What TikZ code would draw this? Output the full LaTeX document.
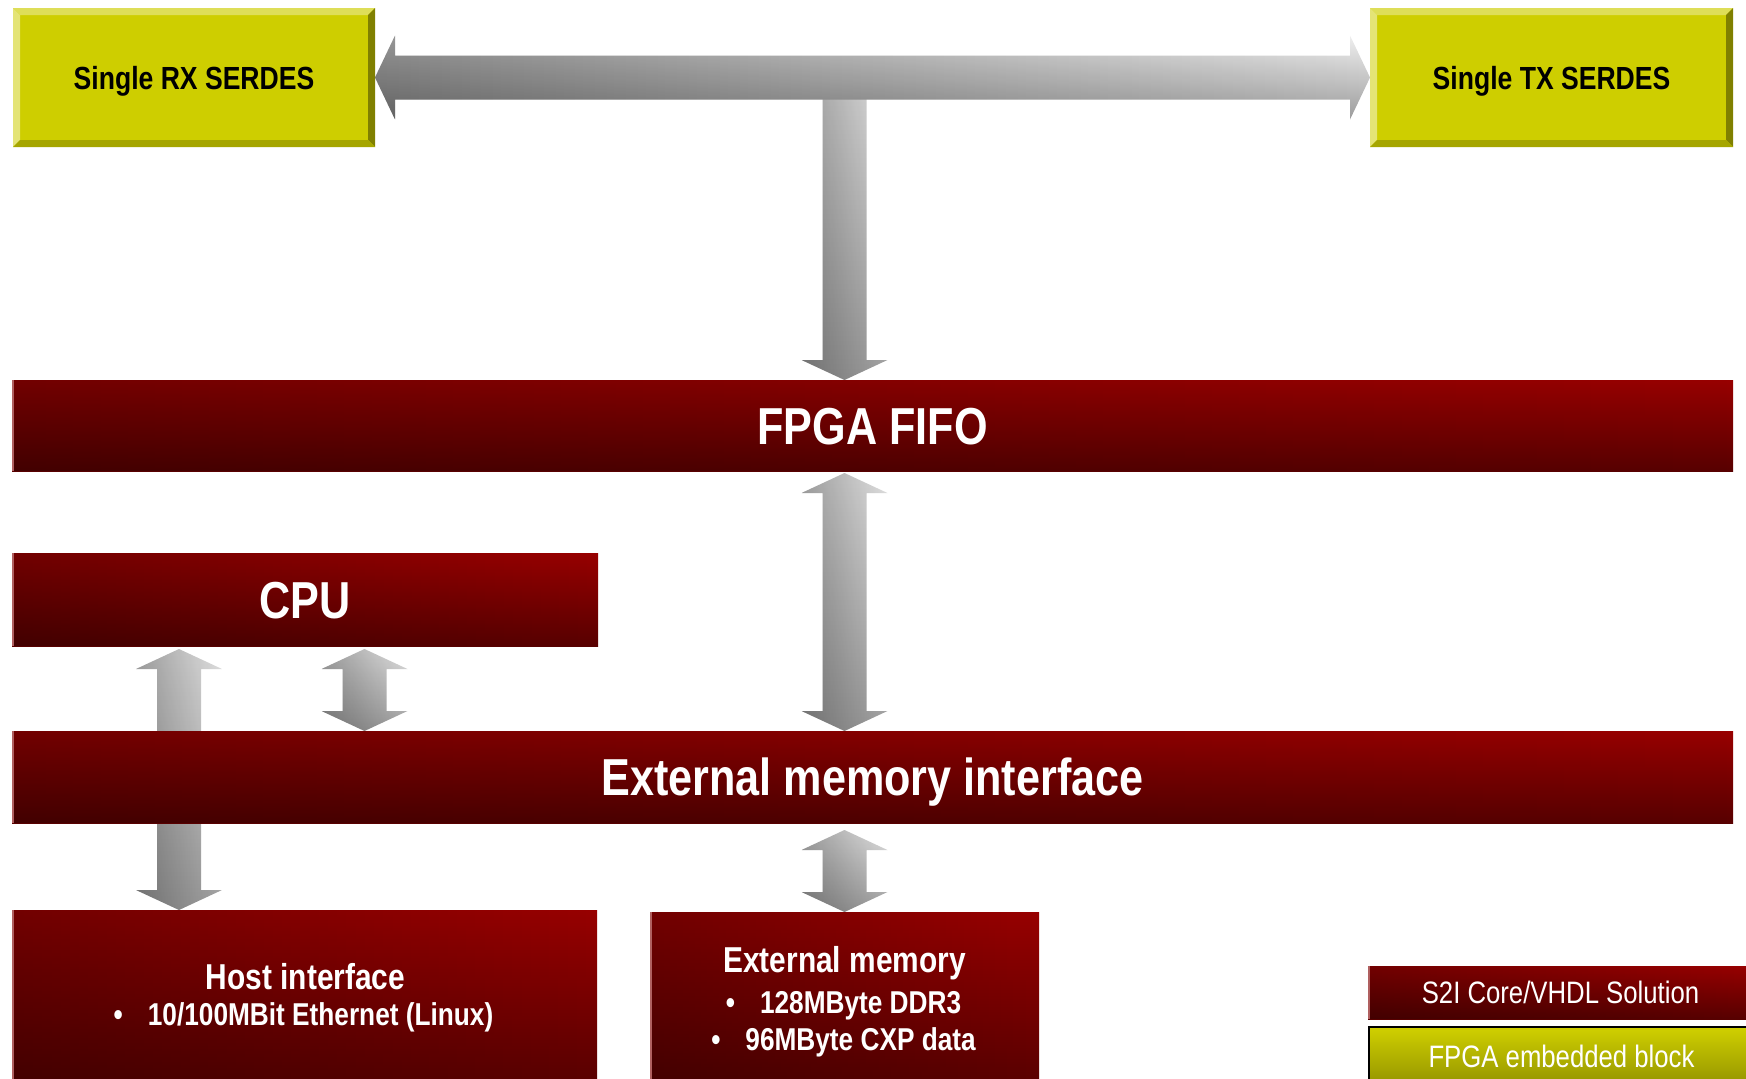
\documentclass[tikz,border=0pt]{standalone}
\usepackage{fontspec}
\setmainfont{Liberation Sans}[FakeStretch=0.83]
\usetikzlibrary{calc,backgrounds,fadings}

\definecolor{redtop}{RGB}{152,0,0}
\definecolor{redbot}{RGB}{88,0,0}
\definecolor{redrim}{RGB}{176,96,96}
\definecolor{graytop}{RGB}{224,224,224}
\definecolor{graybot}{RGB}{160,160,160}
\definecolor{linktop}{RGB}{240,240,240}
\definecolor{linkbot}{RGB}{158,158,158}
\definecolor{serdesface}{RGB}{206,206,0}
\definecolor{beveltop}{RGB}{222,222,88}
\definecolor{bevelleft}{RGB}{228,228,118}
\definecolor{bevelright}{RGB}{128,128,0}
\definecolor{bevelbottom}{RGB}{166,166,0}
\definecolor{legendtop}{RGB}{208,208,0}
\definecolor{legendbot}{RGB}{148,148,0}

\tikzset{
  block/.style={inner sep=0pt, outer sep=0pt, anchor=north west},
  leftshadow/.style={path picture={\fill[black, fill opacity=#1, path fading=east]
    (path picture bounding box.south west) rectangle (path picture bounding box.north east);}},
  redblock/.style={block, top color=redtop, bottom color=redbot, leftshadow=0.25},
  bigtext/.style={text=white, font=\bfseries\fontsize{52}{52}\selectfont,
    text height=37pt, text depth=0pt},
  midtext/.style={text=white, font=\bfseries\fontsize{36}{36}\selectfont, anchor=base},
  itemtext/.style={text=white, font=\bfseries\fontsize{31.6}{31.6}\selectfont, anchor=base},
  serdes/.style={block, fill=serdesface, text=black,
    font=\bfseries\fontsize{32}{32}\selectfont, text height=23pt, text depth=0pt},
  legendtext/.style={text=white, font=\fontsize{31}{31}\selectfont,
    text height=22pt, text depth=0pt},
  fatarrow/.style={top color=graytop, bottom color=graybot, leftshadow=0.3},
  linkarrow/.style={top color=linktop, bottom color=linkbot, leftshadow=0.38},
  rim/.style={draw=redrim, line width=1.6pt},
}

% bevelled frame around a SERDES block
\newcommand\serdesbevel[1]{%
  \fill[beveltop] (#1.north west) -- (#1.north east) -- ($(#1.north east)+(-7,7)$) -- ($(#1.north west)+(7,7)$) -- cycle;
  \fill[bevelleft] (#1.north west) -- ($(#1.north west)+(7,7)$) -- ($(#1.south west)+(7,-7)$) -- (#1.south west) -- cycle;
  \fill[bevelright] (#1.north east) -- (#1.south east) -- ($(#1.south east)+(-7,-7)$) -- ($(#1.north east)+(-7,7)$) -- cycle;
  \fill[bevelbottom] (#1.south west) -- (#1.south east) -- ($(#1.south east)+(-7,-7)$) -- ($(#1.south west)+(7,-7)$) -- cycle;
}

% vertical block arrow with a head at both ends: #1 upper tip, #2 lower tip
\newcommand\fatdouble[2]{%
  \shade[fatarrow] (#1) -- ($(#1)+(43,20)$) -- ($(#1)+(22,20)$) -- ($(#2)+(22,-20)$)
    -- ($(#2)+(43,-20)$) -- (#2) -- ($(#2)+(-43,-20)$) -- ($(#2)+(-22,-20)$)
    -- ($(#1)+(-22,20)$) -- ($(#1)+(-43,20)$) -- cycle;
}

\begin{document}
\begin{tikzpicture}[x=1pt,y=-1pt]
\useasboundingbox (0,0) rectangle (1746,1079);

% SERDES blocks
\node[serdes, minimum width=362pt, minimum height=139pt] (rx) at (13,8) {Single RX SERDES};
\node[serdes, minimum width=363pt, minimum height=139pt] (tx) at (1370,8) {Single TX SERDES};
\serdesbevel{rx}
\serdesbevel{tx}

% main blocks
\node[redblock, bigtext, minimum width=1721pt, minimum height=91pt] (fifo) at (12,380) {FPGA FIFO};
\node[redblock, bigtext, minimum width=586pt, minimum height=93pt] (cpu) at (12,553) {CPU};
\node[redblock, bigtext, minimum width=1721pt, minimum height=92pt] (emi) at (12,731) {External memory interface};
\node[redblock, minimum width=585pt, minimum height=175pt] (host) at (12,910) {};
\node[redblock, minimum width=389pt, minimum height=175pt] (extmem) at (650,912) {};

\node[midtext] (hosttitle) at ($(host.north)+(1,79)$) {Host interface};
\node[itemtext] (hostitem) at ($(host.north)+(-1,115)$) {•\hspace{25pt}10/100MBit Ethernet (Linux)};
\node[midtext] (memtitle) at ($(extmem.north)+(0,60)$) {External memory};
\node[itemtext] (memitem1) at ($(extmem.north)+(-1,101)$) {•\hspace{25pt}128MByte DDR3};
\node[itemtext] (memitem2) at ($(extmem.north)+(-1,138)$) {•\hspace{25pt}96MByte CXP data};

% legend
\node[redblock, legendtext, minimum width=385pt, minimum height=53pt] (legred) at (1368,966) {S2I Core/VHDL Solution};
\node[block, legendtext, top color=legendtop, bottom color=legendbot, draw=black, line width=2pt,
  minimum width=385pt, minimum height=58pt] (legyellow) at (1369,1027) {FPGA embedded block};

% light left rims of the red blocks
\foreach \n in {fifo,cpu,emi,host,extmem,legred}
  \draw[rim] ($(\n.north west)+(0.8,0)$) -- ($(\n.south west)+(0.8,0)$);

% block arrows
\coordinate (midx) at (844.5,0);
\coordinate (leftx) at (179,0);
\coordinate (cpux) at (364.5,0);
\coordinate (stemtop) at (844.5,80);
\coordinate (stemtip) at (fifo.north -| midx);
\coordinate (fifotip) at ($(fifo.south -| midx)+(0,2)$);
\coordinate (emitopmid) at (emi.north -| midx);
\coordinate (cputipL) at ($(cpu.south -| leftx)+(0,3)$);
\coordinate (hosttip) at (host.north -| leftx);
\coordinate (cputipR) at ($(cpu.south -| cpux)+(0,3)$);
\coordinate (emitopR) at (emi.north -| cpux);
\coordinate (emibotmid) at ($(emi.south -| midx)+(0,7)$);
\coordinate (memtip) at (extmem.north -| midx);

\begin{pgfonlayer}{background}
  % stem from the SERDES link down into the FIFO
  \shade[fatarrow] ($(stemtop)+(-22,0)$) -- ($(stemtop)+(22,0)$) -- ($(stemtip)+(22,-20)$)
    -- ($(stemtip)+(43,-20)$) -- (stemtip) -- ($(stemtip)+(-43,-20)$) -- ($(stemtip)+(-22,-20)$) -- cycle;
  % RX <-> TX link
  \shade[linkarrow] (rx.east) -- ($(rx.east)+(20,-42)$) -- ($(rx.east)+(20,-22)$)
    -- ($(tx.west)+(-20,-22)$) -- ($(tx.west)+(-20,-42)$) -- (tx.west)
    -- ($(tx.west)+(-20,42)$) -- ($(tx.west)+(-20,22)$) -- ($(rx.east)+(20,22)$)
    -- ($(rx.east)+(20,42)$) -- cycle;
  \fatdouble{fifotip}{emitopmid}
  \fatdouble{cputipL}{hosttip}
  \fatdouble{cputipR}{emitopR}
  \fatdouble{emibotmid}{memtip}
\end{pgfonlayer}
\end{tikzpicture}
\end{document}
